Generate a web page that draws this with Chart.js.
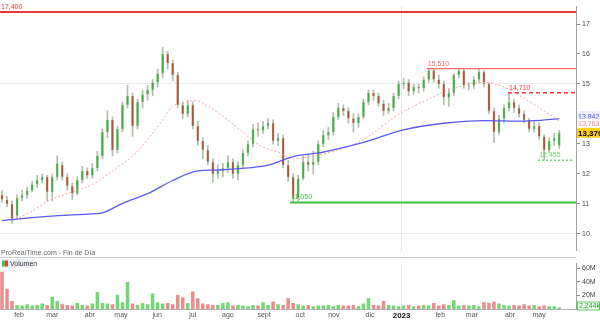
<!DOCTYPE html>
<html>
<head>
<meta charset="utf-8">
<style>
  html, body { margin: 0; padding: 0; background: #fff; }
  #wrap { position: relative; width: 600px; height: 323px; }
  #priceChart { position: absolute; left: 0; top: 0; }
  #volChart { position: absolute; left: 0; top: 257px; }
</style>
</head>
<body>
<div id="wrap">
  <canvas id="priceChart" width="600" height="257"></canvas>
  <canvas id="volChart" width="600" height="66"></canvas>
</div>
<script src="https://cdn.jsdelivr.net/npm/chart.js@4.4.0/dist/chart.umd.min.js"></script>
<script>
    // one candle ~ every 3 sessions, jan 2022 -> may 2023
    const openP = [11.3,11.15,11.0,10.6,11.2,11.3,11.45,11.65,11.8,11.9,
        11.4,11.9,12.3,11.9,11.6,11.35,11.8,12.1,11.95,12.2,
        12.6,13.4,13.8,12.8,13.5,14.3,14.6,13.6,14.4,14.65,
        14.8,15.05,15.35,16.0,15.7,15.3,14.3,14.0,14.3,13.6,
        13.1,12.8,12.4,12.0,12.1,12.2,12.4,12.0,12.3,12.7,
        13.0,13.5,13.45,13.6,13.7,13.1,13.2,12.3,11.9,11.2,
        11.85,12.4,12.3,12.4,13.0,13.3,13.4,13.9,14.2,14.1,
        13.85,13.7,13.9,14.4,14.7,14.6,14.35,14.1,14.2,14.6,
        15.0,15.05,14.75,14.9,14.85,15.15,15.45,15.15,15.0,14.55,
        14.7,15.3,15.45,14.95,14.95,15.15,15.4,15.0,14.1,13.4,
        13.85,14.2,14.4,14.2,14.0,13.8,13.5,13.6,13.25,12.8,
        13.1,12.95];
    const highP = [11.45,11.25,11.1,11.3,11.45,11.55,11.75,11.95,12.0,11.95,
        12.0,12.6,12.4,12.0,11.7,11.9,12.25,12.2,12.35,12.75,
        13.5,14.1,13.9,13.6,14.4,14.96,14.7,14.5,14.8,14.95,
        15.15,15.5,16.23,16.1,15.8,15.4,14.4,14.45,14.4,13.75,
        13.2,12.95,12.5,12.3,12.35,12.6,12.5,12.4,12.8,13.1,
        13.65,13.7,13.75,13.85,13.8,13.35,13.3,12.45,12.0,11.95,
        12.6,12.65,12.75,13.1,13.45,13.55,14.05,14.35,14.3,14.2,
        14.0,14.0,14.5,14.8,14.8,14.7,14.45,14.35,14.7,15.1,
        15.2,15.15,15.0,15.0,15.25,15.51,15.5,15.3,15.1,14.85,
        15.35,15.5,15.5,15.05,15.25,15.5,15.45,15.05,14.2,13.95,
        14.3,14.71,14.5,14.3,14.1,13.85,13.75,13.7,13.3,13.2,
        13.35,13.45];
    const lowP = [11.05,10.9,10.35,10.5,11.1,11.2,11.4,11.55,11.7,11.1,
        11.1,11.8,11.8,11.45,11.15,11.3,11.7,11.85,11.85,12.1,
        12.5,13.2,12.6,12.7,13.4,14.2,13.25,13.5,14.2,14.45,
        14.6,14.9,15.2,15.5,15.1,14.2,13.85,13.9,13.5,12.95,
        12.5,12.3,11.72,11.85,11.9,12.05,11.85,11.8,12.2,12.6,
        12.9,13.25,13.35,13.5,13.0,12.95,12.2,11.75,11.05,11.1,
        11.8,12.1,12.0,12.3,12.9,13.15,13.3,13.8,13.95,13.7,
        13.4,13.55,13.85,14.3,14.45,14.25,13.95,14.0,14.1,14.5,
        14.85,14.6,14.65,14.7,14.75,15.05,15.05,14.85,14.3,14.26,
        14.6,15.2,14.85,14.8,14.85,15.05,14.9,14.0,13.05,13.3,
        13.7,14.1,14.05,13.9,13.7,13.4,13.4,13.15,12.455,12.7,
        12.95,12.85];
    const closeP = [11.15,11.0,10.5,11.2,11.3,11.45,11.65,11.8,11.9,11.4,
        11.9,12.35,11.9,11.6,11.35,11.8,12.1,11.95,12.2,12.6,
        13.4,13.8,12.8,13.5,14.3,14.6,13.6,14.4,14.65,14.8,
        15.05,15.35,16.0,15.7,15.3,14.3,14.0,14.3,13.6,13.1,
        12.8,12.4,12.0,12.1,12.2,12.4,12.0,12.3,12.7,13.0,
        13.5,13.45,13.6,13.7,13.1,13.2,12.3,11.9,11.2,11.85,
        12.4,12.3,12.4,13.0,13.3,13.4,13.9,14.2,14.1,13.85,
        13.7,13.9,14.4,14.7,14.6,14.35,14.1,14.2,14.6,15.0,
        15.05,14.75,14.9,14.85,15.15,15.45,15.15,15.0,14.55,14.7,
        15.3,15.45,14.95,14.95,15.15,15.4,15.0,14.1,13.4,13.85,
        14.2,14.4,14.2,14.0,13.8,13.5,13.6,13.25,12.8,13.1,
        13.2,13.37];
    // volume in millions
    const volume = [55,30,12,6,5,7,5,6,8,6,
        18,12,7,6,5,9,6,5,8,25,
        9,8,7,21,10,40,8,6,9,7,
        23,10,8,9,7,21,17,9,26,16,
        8,7,6,6,9,10,5,6,5,4,
        6,5,10,6,11,7,6,16,9,7,
        5,6,4,5,5,6,4,6,5,5,
        6,4,8,16,6,5,12,6,5,4,
        5,6,4,5,6,5,9,5,7,6,
        13,5,6,5,6,4,10,9,11,8,
        6,5,6,5,7,5,6,4,5,4,
        4,2.244];

    // moving averages read at a few points
    const ma200X = [0,9,18,20,24,29,34,39,43,49,53,58,64,72,80,88,96,104,111];
    const ma200Y = [10.44,10.58,10.67,10.7,11.02,11.34,11.78,12.1,12.13,12.2,12.29,12.58,12.73,13.05,13.47,13.69,13.78,13.76,13.842];
    const ma50X = [2,6,9,14,18,22,26,29,32,34,36,38.5,41,45,49,52,55,58,62,66,71,74,78,82,86,88,96,100,104,108,111];
    const ma50Y = [10.44,10.76,11.08,11.4,11.65,12.1,12.6,13.15,13.79,14.26,14.35,14.45,14.26,13.79,13.25,12.89,12.73,12.5,12.6,12.76,13.05,13.37,13.88,14.26,14.58,14.73,15.05,14.9,14.52,14.1,13.763];

    const monthLabels = ['feb','mar','abr','may','jun','jul','ago','sept','oct','nov','dic','2023','feb','mar','abr','may'];
    const monthPos = [3.4,10,17.5,23.7,30.9,38,45,52.2,59.4,66.1,73.3,79.6,87.3,93.6,101.2,107];
    const priceTicks = [10,11,12,13,14,15,16,17];
    const volTicks = [20,40,60];

    const levelValues = [17.4, 15.51, 14.71, 11.05, 12.455];
    const levelStart = [-0.4, 84.6, 100.8, 57.4, 106.8];
    const levelEnd = [114.34, 114.34, 114.34, 114.34, 113.7];
    const levelColors = ['#e83a3a', '#f06a6a', '#f03c3c', '#3cbf3c', '#74d074'];
    const levelDash = [[], [], [4, 3], [], [2, 2]];
    const levelWidth = [2.2, 1.3, 1.5, 2, 1.3];

    const X_MIN = -0.4, X_MAX = 114.34;
    const FONT = '"Liberation Sans", Arial, sans-serif';
    Chart.defaults.font.family = FONT;
    Chart.defaults.font.size = 7;
    Chart.defaults.color = '#555';

    const up = closeP.map((c, i) => c >= openP[i]);
    const fmt = v => v.toFixed(3).replace('.', ',');

    const priceLabels = {
        id: 'priceLabels',
        afterDraw(chart) {
            const {ctx, scales: {x, y}} = chart;
            ctx.save();
            ctx.font = '7px ' + FONT;
            ctx.textBaseline = 'bottom';
            levelValues.forEach((v, k) => {
                ctx.fillStyle = levelColors[k];
                ctx.fillText(fmt(v), x.getPixelForValue(levelStart[k]) + 1, y.getPixelForValue(v) - 1.5);
            });
            ctx.fillStyle = '#666';
            ctx.textBaseline = 'alphabetic';
            ctx.fillText('ProRealTime.com - Fin de Día', 1, 255);

            // value tags on the right axis
            const tags = [
                {v: ma200Y[ma200Y.length - 1], dy: -2.5, fg: '#4a4af0', bg: '#eef0ff', bold: false},
                {v: ma50Y[ma50Y.length - 1], dy: 2.5, fg: '#f08a8a', bg: '#ffffff', bold: false},
                {v: closeP[closeP.length - 1], dy: 0, fg: '#000000', bg: '#ffd21f', bold: true}
            ];
            ctx.textBaseline = 'middle';
            tags.forEach(t => {
                const py = y.getPixelForValue(t.v) + t.dy;
                ctx.fillStyle = t.bg;
                ctx.fillRect(577, py - 5, 23, 10);
                ctx.font = (t.bold ? 'bold 8px ' : '7px ') + FONT;
                ctx.fillStyle = t.fg;
                ctx.fillText(fmt(t.v), 578, py + 0.5);
            });
            ctx.restore();
        }
    };

    const xBase = {
        type: 'linear',
        min: X_MIN,
        max: X_MAX,
        offset: false,
        afterBuildTicks: s => { s.ticks = monthPos.map(v => ({value: v})); },
        grid: {
            offset: false,
            color: c => (c.tick && c.tick.value === monthPos[11]) ? '#e4e6ee' : 'rgba(0,0,0,0)',
            drawTicks: false
        },
        border: {display: false}
    };

    new Chart('priceChart', {
        type: 'bar',
        data: {
            datasets: [
                ...levelValues.map((v, k) => ({
                    type: 'line',
                    data: [{x: levelStart[k], y: v}, {x: levelEnd[k], y: v}],
                    borderColor: levelColors[k],
                    borderWidth: levelWidth[k],
                    borderDash: levelDash[k],
                    pointRadius: 0,
                    order: 0
                })),
                {
                    type: 'line',
                    data: ma200X.map((x, k) => ({x: x, y: ma200Y[k]})),
                    borderColor: '#5a5af5',
                    borderWidth: 1.3,
                    pointRadius: 0,
                    cubicInterpolationMode: 'monotone',
                    order: 1
                },
                {
                    type: 'line',
                    data: ma50X.map((x, k) => ({x: x, y: ma50Y[k]})),
                    borderColor: '#f5a3a3',
                    borderWidth: 1,
                    borderDash: [2, 2],
                    pointRadius: 0,
                    cubicInterpolationMode: 'monotone',
                    order: 1
                },
                {
                    data: closeP.map((c, i) => ({x: i, y: [openP[i], c]})),
                    backgroundColor: up.map(u => u ? '#3fae3f' : '#a8553a'),
                    borderColor: up.map(u => u ? 'rgba(60,150,60,0.6)' : 'rgba(150,80,50,0.6)'),
                    borderWidth: 0.5,
                    borderSkipped: false,
                    barPercentage: 0.55,
                    categoryPercentage: 1,
                    grouped: false,
                    minBarLength: 1,
                    order: 2
                },
                {
                    data: closeP.map((c, i) => ({x: i, y: [lowP[i], highP[i]]})),
                    backgroundColor: 'rgba(120,150,110,0.6)',
                    barThickness: 1,
                    grouped: false,
                    order: 3
                }
            ]
        },
        options: {
            responsive: false,
            animation: false,
            layout: {padding: 0},
            plugins: {legend: {display: false}, tooltip: {enabled: false}},
            scales: {
                x: Object.assign({}, xBase, {
                    ticks: {display: false},
                    afterFit: s => { s.height = 0; }
                }),
                y: {
                    position: 'right',
                    min: 9.435,
                    max: 17.594,
                    afterBuildTicks: s => { s.ticks = priceTicks.map(v => ({value: v})); },
                    afterFit: s => { s.width = 24; },
                    ticks: {padding: 2, color: '#444', font: {size: 7}},
                    grid: {
                        color: c => (c.tick && (c.tick.value === 15 || c.tick.value === 10)) ? '#ececec' : 'rgba(0,0,0,0)',
                        tickColor: '#888',
                        tickLength: 4
                    },
                    border: {display: true, color: '#a0a0a0'}
                }
            }
        },
        plugins: [priceLabels]
    });

    const volLabels = {
        id: 'volLabels',
        afterDraw(chart) {
            const {ctx, scales: {y}} = chart;
            ctx.save();
            ctx.strokeStyle = '#cfcfcf';
            ctx.lineWidth = 1;
            ctx.beginPath();
            ctx.moveTo(0, 0.5);
            ctx.lineTo(576, 0.5);
            ctx.stroke();

            ctx.fillStyle = '#eef1f5';
            ctx.fillRect(1, 2, 32, 9);
            ctx.fillStyle = '#4cc04c';
            ctx.fillRect(2, 3.5, 3, 6);
            ctx.fillStyle = '#e04848';
            ctx.fillRect(5, 3.5, 3, 6);
            ctx.fillStyle = '#333';
            ctx.font = '7px ' + FONT;
            ctx.textBaseline = 'middle';
            ctx.fillText('Volumen', 10, 7);

            const last = volume[volume.length - 1];
            const py = y.getPixelForValue(last) - 1.5;
            ctx.fillStyle = '#f2fff2';
            ctx.fillRect(577, py - 4.5, 23, 9);
            ctx.strokeStyle = '#66cc66';
            ctx.strokeRect(577.5, py - 4, 22, 8);
            ctx.fillStyle = '#33a833';
            ctx.fillText(fmt(last) + 'k', 579, py + 0.5);
            ctx.restore();
        }
    };

    new Chart('volChart', {
        type: 'bar',
        data: {
            datasets: [{
                data: volume.map((v, i) => ({x: i, y: v})),
                backgroundColor: up.map(u => u ? 'rgba(70,200,70,0.75)' : 'rgba(225,85,85,0.68)'),
                barPercentage: 0.7,
                categoryPercentage: 1
            }]
        },
        options: {
            responsive: false,
            animation: false,
            layout: {padding: 0},
            plugins: {legend: {display: false}, tooltip: {enabled: false}},
            scales: {
                x: Object.assign({}, xBase, {
                    ticks: {
                        autoSkip: false,
                        maxRotation: 0,
                        padding: 2,
                        callback: (v, i) => monthLabels[i],
                        color: c => (c.tick && c.tick.value === monthPos[11]) ? '#111' : '#555',
                        font: c => (c.tick && c.tick.value === monthPos[11]) ? {size: 8, weight: 'bold'} : {size: 7}
                    },
                    border: {display: true, color: '#b0b0b0'},
                    afterFit: s => { s.height = 14; }
                }),
                y: {
                    position: 'right',
                    min: 0,
                    max: 67.8,
                    afterBuildTicks: s => { s.ticks = volTicks.map(v => ({value: v})); },
                    afterFit: s => { s.width = 24; },
                    ticks: {padding: 2, color: '#444', font: {size: 7}, callback: v => v + 'M'},
                    grid: {drawOnChartArea: false, tickColor: '#888', tickLength: 4},
                    border: {display: true, color: '#a0a0a0'}
                }
            }
        },
        plugins: [volLabels]
    });
</script>
</body>
</html>
